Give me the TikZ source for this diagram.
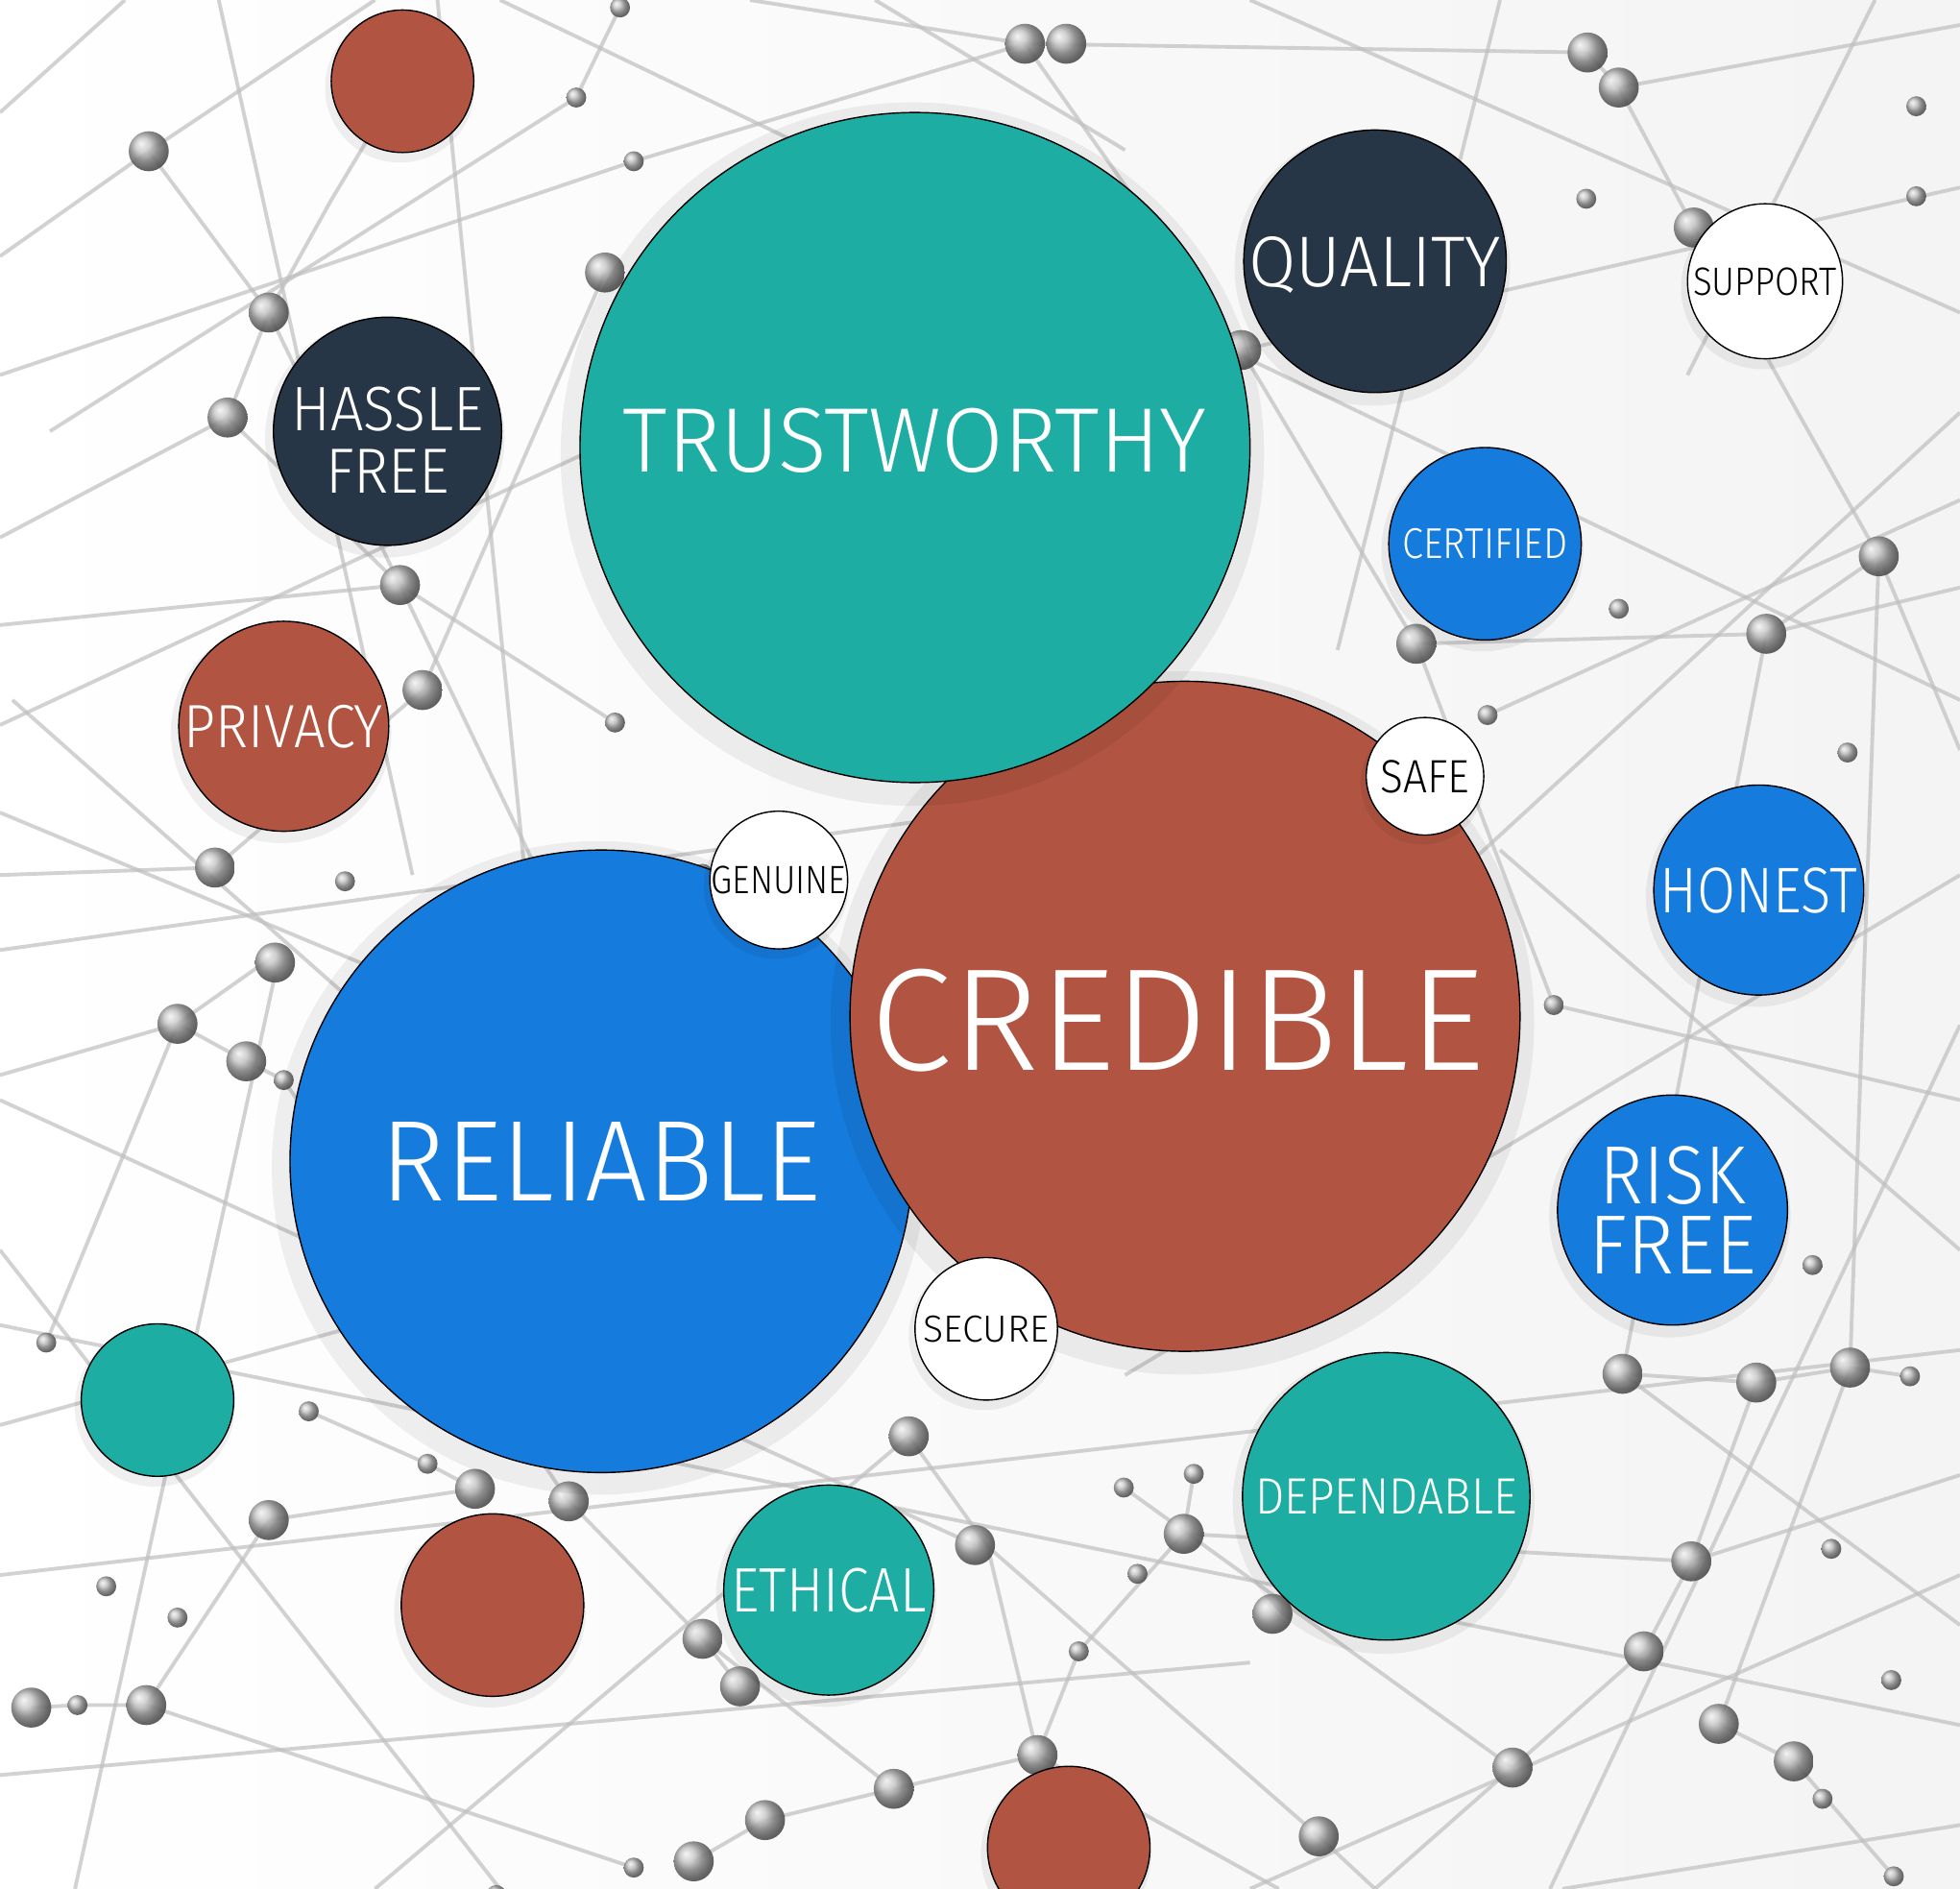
\documentclass[tikz,border=0pt]{standalone}
\usepackage{fontspec}
\setmainfont{Fira Sans Light}
\usepackage{graphicx}
\usetikzlibrary{positioning, shadows}

\definecolor{tealc}{HTML}{1EADA3}
\definecolor{rustc}{HTML}{B15441}
\definecolor{navyc}{HTML}{263647}
\definecolor{bluec}{HTML}{157BDC}

% one pixel of the picture
\newlength{\pxu}
\setlength{\pxu}{0.01302cm}
% label squeezed to a width and a cap height
\newcommand{\lbl}[3]{\resizebox{#1\pxu}{#2\pxu}{\raisebox{0pt}[\height][0pt]{#3}}}

\begin{document}
\begin{tikzpicture}[x=\pxu, y=-\pxu,
        bubble/.style={circle, draw=black, line width=0.4pt, inner sep=0pt,
                general shadow={fill=black, opacity=0.06, shadow scale=1.05, shadow yshift=-5\pxu, shadow xshift=-2\pxu}},
        tealnode/.style={bubble, fill=tealc, text=white},
        rustnode/.style={bubble, fill=rustc, text=white},
        navynode/.style={bubble, fill=navyc, text=white},
        bluenode/.style={bubble, fill=bluec, text=white},
        whitenode/.style={bubble, fill=white, text=black},
        netline/.style={gray!50, line width=1.1pt, opacity=0.7},
        netball/.style={ball color=gray!55, opacity=0.9},
]
        \useasboundingbox (0,0) rectangle (1568,1511);
        \clip (0,0) rectangle (1568,1511);
        \shade[left color=white, right color=gray!9] (0,0) rectangle (1568,1511);

        % background network
        \draw[netline] (0,205) -- (119,121) -- (300,0);
        \draw[netline] (119,121) -- (215,250) -- (320,468) -- (470,780);
        \draw[netline] (0,300) -- (507,129) -- (820,35);
        \draw[netline] (40,345) -- (461,78) -- (496,6);
        \draw[netline] (0,430) -- (182,334) -- (215,250) -- (265,160) -- (322,65);
        \draw[netline] (182,334) -- (320,468) -- (492,578);
        \draw[netline] (0,500) -- (320,468);
        \draw[netline] (0,700) -- (172,694) -- (338,552) -- (484,218);
        \draw[netline] (0,650) -- (600,900);
        \draw[netline] (10,560) -- (360,870);
        \draw[netline] (100,0) -- (0,90);
        \draw[netline] (175,0) -- (330,700);
        \draw[netline] (0,580) -- (560,320);
        \draw[netline] (0,760) -- (1000,620);
        \draw[netline] (0,880) -- (780,1236);
        \draw[netline] (0,1000) -- (400,1511);
        \draw[netline] (60,1511) -- (220,780);
        \draw[netline] (0,1140) -- (900,890);
        \draw[netline] (0,1260) -- (1568,1080);
        \draw[netline] (300,1511) -- (727,1149);
        \draw[netline] (0,1420) -- (1000,1330);
        \draw[netline] (350,0) -- (420,700);
        \draw[netline] (600,0) -- (820,35) -- (1270,42);
        \draw[netline] (820,35) -- (993,280) -- (1133,515) -- (1243,804);
        \draw[netline] (1270,42) -- (1295,70) -- (1355,182) -- (1503,445) -- (1568,600);
        \draw[netline] (1295,70) -- (1568,20);
        \draw[netline] (1000,0) -- (1568,250);
        \draw[netline] (993,280) -- (1568,150);
        \draw[netline] (1133,515) -- (1413,507) -- (1568,470);
        \draw[netline] (1413,507) -- (1503,445);
        \draw[netline] (1190,572) -- (1568,400);
        \draw[netline] (1413,507) -- (1298,1099);
        \draw[netline] (1503,445) -- (1480,1094);
        \draw[netline] (1243,804) -- (1568,880);
        \draw[netline] (1200,680) -- (1568,1000);
        \draw[netline] (1298,1099) -- (1405,1106) -- (1480,1094) -- (1528,1101);
        \draw[netline] (1405,1106) -- (1353,1249) -- (1315,1321) -- (1210,1414) -- (1100,1511);
        \draw[netline] (1480,1094) -- (1375,1379) -- (1435,1409) -- (1515,1501);
        \draw[netline] (1353,1249) -- (1568,1180);
        \draw[netline] (1298,1099) -- (1568,1300);
        \draw[netline] (947,1227) -- (1353,1249);
        \draw[netline] (955,1179) -- (947,1227) -- (863,1321) -- (830,1404);
        \draw[netline] (899,1190) -- (1210,1414);
        \draw[netline] (790,1237) -- (1055,1469) -- (1100,1511);
        \draw[netline] (830,1404) -- (1023,1511);
        \draw[netline] (727,1149) -- (790,1237) -- (830,1404) -- (715,1431);
        \draw[netline] (562,1311) -- (715,1431) -- (612,1456) -- (555,1489);
        \draw[netline] (455,1201) -- (562,1311) -- (592,1349);
        \draw[netline] (380,1191) -- (215,1216) -- (117,1364);
        \draw[netline] (25,1366) -- (62,1364) -- (117,1364) -- (507,1494);
        \draw[netline] (142,819) -- (197,849) -- (227,864) -- (455,1201);
        \draw[netline] (142,819) -- (0,860);
        \draw[netline] (220,764) -- (142,819) -- (37,1074);
        \draw[netline] (247,1129) -- (342,1171) -- (380,1191);
        \draw[netline] (1568,700) -- (900,1100);
        \draw[netline] (1200,0) -- (1070,520);
        \draw[netline] (700,0) -- (900,120);
        \draw[netline] (1500,0) -- (1350,300);
        \draw[netline] (1568,330) -- (1100,760);
        \draw[netline] (1000,1511) -- (1568,1260);
        \draw[netline] (1250,1511) -- (1568,1460);
        \draw[netline] (0,1060) -- (1568,1380);
        \draw[netline] (400,0) -- (1568,560);
        \draw[netline] (1568,820) -- (1240,1511);

        \foreach \bx/\by in {119/121, 215/250, 182/334, 320/468, 338/552, 484/218, 172/694,
                220/770, 820/35, 853/35, 1270/42, 1295/70, 1355/182, 993/280, 1503/445,
                1413/507, 1133/515, 1063/590, 142/819, 197/849, 380/1191, 455/1201,
                215/1216, 25/1366, 117/1364, 727/1149, 562/1311, 592/1349, 715/1431,
                612/1456, 555/1489, 780/1236, 1298/1099, 1405/1106, 1480/1094, 947/1227,
                1018/1291, 1353/1249, 1315/1321, 1375/1379, 1435/1409, 1210/1414,
                830/1404, 1055/1469}
            \shade[netball] (\bx,\by) circle (16);
        \foreach \bx/\by in {461/78, 496/6, 507/129, 492/578, 276/705, 562/699,
                1533/85, 1533/157, 1269/159, 1295/487, 1190/572, 1478/602, 227/864,
                37/1074, 247/1129, 342/1171, 85/1269, 142/1294, 62/1364, 507/1494,
                397/1516, 1243/804, 1450/1012, 1528/1101, 955/1179, 899/1190, 910/1259,
                863/1321, 1465/1239, 1458/1439, 1515/1501, 1513/1344}
            \shade[netball] (\bx,\by) circle (8);

        % bubbles
        \node[bluenode, minimum size=498\pxu] (reliable) at (481,929) {\lbl{352}{63}{RELIABLE}};
        \node[rustnode, minimum size=536\pxu] (credible) at (948,813)
                {\raisebox{0pt}[\dimexpr\height+6\pxu\relax][0pt]{\lbl{491}{81}{CREDIBLE}}\hspace*{12\pxu}};
        \node[tealnode, minimum size=536\pxu] (trust) at (732,358)
                {\raisebox{0pt}[\height][12\pxu]{\lbl{467}{51}{TRUSTWORTHY}}};
        \node[rustnode, minimum size=114\pxu] (redtop) at (322,65) {};
        \node[navynode, minimum size=210\pxu] (quality) at (1100,209) {\lbl{202}{40}{QUALITY}};
        \node[whitenode, minimum size=124\pxu] (support) at (1412,225) {\lbl{115}{22}{SUPPORT}};
        \node[navynode, minimum size=180\pxu, align=center, font=\fontsize{10}{18.5}\selectfont]
                (hassle) at (310,345)
                {\raisebox{0pt}[\dimexpr\height+14\pxu\relax][0pt]{\lbl{154}{35}{HASSLE}}\\\lbl{99}{35}{FREE}};
        \node[bluenode, minimum size=154\pxu] (certified) at (1188,435) {\lbl{132}{24}{CERTIFIED}};
        \node[rustnode, minimum size=168\pxu] (privacy) at (227,581) {\lbl{159}{34}{PRIVACY}};
        \node[whitenode, minimum size=94\pxu] (safe) at (1140,621) {\lbl{71}{26}{SAFE}};
        \node[whitenode, minimum size=110\pxu] (genuine) at (623,704) {\lbl{108}{22}{GENUINE}};
        \node[bluenode, minimum size=168\pxu] (honest) at (1407,712) {\lbl{158}{36}{HONEST}};
        \node[bluenode, minimum size=184\pxu, align=center, font=\fontsize{10}{21}\selectfont]
                (riskfree) at (1338,968) {\lbl{117}{46}{RISK}\\\lbl{134}{46}{FREE}};
        \node[whitenode, minimum size=114\pxu] (secure) at (789,1063) {\lbl{100}{21}{SECURE}};
        \node[tealnode, minimum size=122\pxu] (tealleft) at (126,1120) {};
        \node[tealnode, minimum size=230\pxu] (dependable) at (1109,1197) {\lbl{209}{28}{DEPENDABLE}};
        \node[tealnode, minimum size=168\pxu] (ethical) at (663,1272) {\lbl{156}{35}{ETHICAL}};
        \node[rustnode, minimum size=146\pxu] (redleft) at (394,1284) {};
        \node[rustnode, minimum size=130\pxu] (redbottom) at (855,1478) {};
\end{tikzpicture}
\end{document}
